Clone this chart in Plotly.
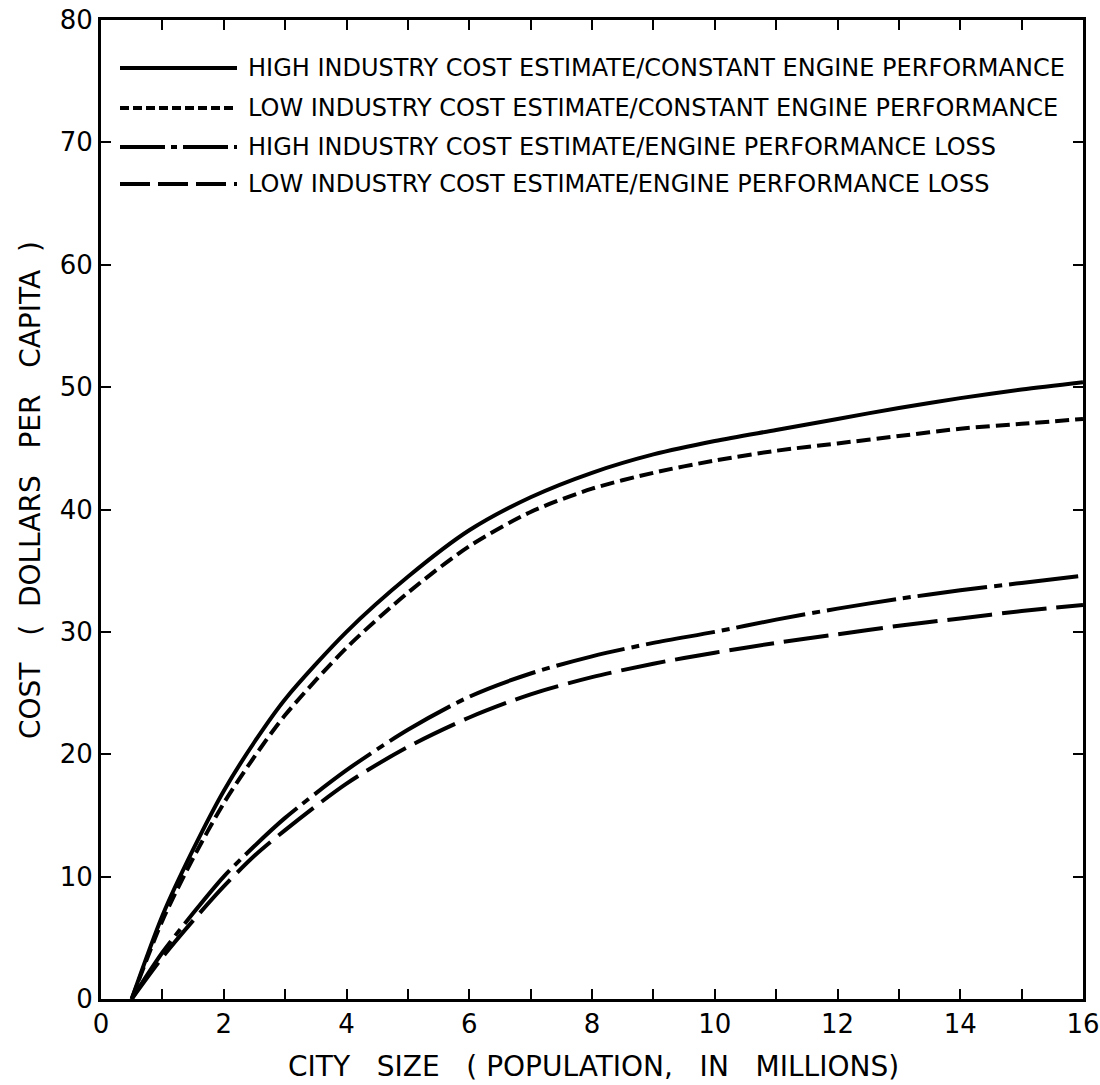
import plotly.graph_objects as go

# ---------------- data ----------------
city_size = [0.5, 1, 1.5, 2, 2.5, 3, 4, 5, 6, 7, 8, 9, 10, 11, 12, 13, 14, 15, 16]

high_const = [0, 6.8, 12.2, 17.0, 21.0, 24.5, 30.0, 34.5, 38.3, 41.0, 43.0, 44.5, 45.6, 46.5, 47.4, 48.3, 49.1, 49.8, 50.4]
low_const = [0, 6.4, 11.5, 16.0, 19.8, 23.2, 28.7, 33.2, 37.0, 39.8, 41.7, 43.0, 44.0, 44.8, 45.4, 46.0, 46.6, 47.0, 47.4]
high_loss = [0, 3.8, 7.0, 10.0, 12.5, 14.8, 18.7, 22.0, 24.7, 26.6, 28.0, 29.1, 30.0, 31.0, 31.9, 32.7, 33.4, 34.0, 34.6]
low_loss = [0, 3.4, 6.4, 9.2, 11.7, 13.8, 17.6, 20.6, 23.0, 24.9, 26.3, 27.4, 28.3, 29.1, 29.8, 30.5, 31.1, 31.7, 32.2]

series_names = [
    "HIGH INDUSTRY COST ESTIMATE/CONSTANT ENGINE PERFORMANCE",
    "LOW INDUSTRY COST ESTIMATE/CONSTANT ENGINE PERFORMANCE",
    "HIGH INDUSTRY COST ESTIMATE/ENGINE PERFORMANCE LOSS",
    "LOW INDUSTRY COST ESTIMATE/ENGINE PERFORMANCE LOSS",
]
series_values = [high_const, low_const, high_loss, low_loss]

x_ticks = list(range(0, 17))
x_tick_text = [str(v) if v % 2 == 0 else "" for v in x_ticks]
y_ticks = list(range(0, 81, 10))
y_tick_text = [str(v) for v in y_ticks]

x_title = "CITY   SIZE   ( POPULATION,   IN   MILLIONS)"
y_title = "COST   (  DOLLARS   PER   CAPITA  )"

# ---------------- styling ----------------
W, H = 1100, 1085
L, R, T, B = 101, 17, 20, 86
PW, PH = W - L - R, H - T - B
FONT = "DejaVu Sans, sans-serif"

curve_dash = ["solid", "14px,6px", "70px,7px,8px,7px", "45px,10px"]
legend_dash = ["solid", "9px,4px", "45px,6px,6px,6px", "30px,8px"]


def px_x(p):
    return (p - L) / PW


def px_y(p):
    return 1 - (p - T) / PH


fig = go.Figure()
for name, vals, dash in zip(series_names, series_values, curve_dash):
    fig.add_trace(go.Scatter(
        x=city_size, y=vals, mode="lines", name=name,
        line=dict(color="black", width=4, dash=dash, shape="spline", smoothing=0.8),
        showlegend=False, hoverinfo="skip",
    ))

# manual legend (keys + labels)
legend_rows_px = [68, 108, 147, 184]
shapes = []
annotations = []
for name, dash, ypx in zip(series_names, legend_dash, legend_rows_px):
    shapes.append(dict(type="line", xref="paper", yref="paper",
                       x0=px_x(120), x1=px_x(237), y0=px_y(ypx), y1=px_y(ypx),
                       line=dict(color="black", width=4, dash=dash)))
    annotations.append(dict(xref="paper", yref="paper", x=px_x(246), y=px_y(ypx),
                            xanchor="left", yanchor="middle", showarrow=False,
                            text=name, font=dict(family=FONT, size=24, color="black")))

annotations.append(dict(xref="paper", yref="paper", x=px_x(593), y=px_y(1066),
                        xanchor="center", yanchor="middle", showarrow=False,
                        text=x_title, font=dict(family=FONT, size=28, color="black")))
annotations.append(dict(xref="paper", yref="paper", x=px_x(30), y=px_y(490),
                        xanchor="center", yanchor="middle", showarrow=False, textangle=-90,
                        text=y_title, font=dict(family=FONT, size=28, color="black")))

axis_common = dict(
    showgrid=False, zeroline=False, showline=True, linecolor="black", linewidth=3,
    ticks="inside", ticklen=10, tickwidth=2, tickcolor="black", mirror="allticks",
    tickfont=dict(family=FONT, size=26, color="black"), automargin=False,
)

fig.update_layout(
    width=W, height=H, autosize=False,
    margin=dict(l=L, r=R, t=T, b=B, autoexpand=False),
    paper_bgcolor="white", plot_bgcolor="white",
    xaxis=dict(range=[0, 16], tickvals=x_ticks, ticktext=x_tick_text, **axis_common),
    yaxis=dict(range=[0, 80], tickvals=y_ticks, ticktext=y_tick_text, **axis_common),
    shapes=shapes, annotations=annotations,
    showlegend=False,
)

fig.write_html(
    "out.html",
    config={"displayModeBar": False, "responsive": False},
    post_script="document.body.style.margin='0';document.body.style.overflow='hidden';",
)
